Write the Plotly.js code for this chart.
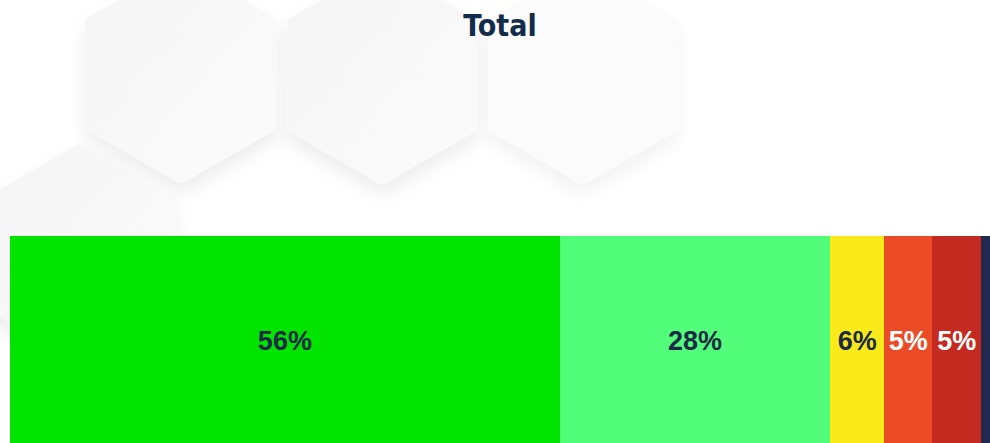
<!DOCTYPE html>
<html>
<head>
<meta charset="utf-8">
<script src="https://cdn.plot.ly/plotly-3.0.1.min.js"></script>
<style>
html,body{margin:0;padding:0;width:990px;height:443px;overflow:hidden;background:#fff;}
#bg{position:absolute;left:0;top:0;}
#chart{position:absolute;left:0;top:0;width:990px;height:446px;}
</style>
</head>
<body>
<svg id="bg" width="990" height="443" xmlns="http://www.w3.org/2000/svg">
  <defs>
    <filter id="sh" x="-30%" y="-30%" width="160%" height="170%">
      <feDropShadow dx="0" dy="10" stdDeviation="9" flood-color="#000" flood-opacity="0.07"/>
    </filter>
    <linearGradient id="g1" x1="0" y1="0" x2="1" y2="1">
      <stop offset="0" stop-color="#f5f5f5"/>
      <stop offset="1" stop-color="#fbfbfb"/>
    </linearGradient>
  </defs>
  <g id="hexes"></g>
</svg>
<div id="chart"></div>
<script>
// Data
const categories = ["Seg A", "Seg B", "Seg C", "Seg D", "Seg E", "Seg F"];
const values = [56.1, 27.6, 5.5, 4.9, 5.0, 0.9];
const labels = ["56%", "28%", "6%", "5%", "5%", ""];
const colors = ["#00e400", "#52fd7a", "#fbea1a", "#ec4b27", "#c52a20", "#1f2a4e"];
const textColors = ["#1b2a47", "#1b2a47", "#1b2a47", "#ffffff", "#ffffff", "#ffffff"];

// decorative background hexagons
const hexes = [
  {cx:181, cy:74, fill:"url(#g1)", op:1},
  {cx:382, cy:75, fill:"url(#g1)", op:1},
  {cx:583, cy:75, fill:"#fafafa", op:0.75},
  {cx:80, cy:253, fill:"url(#g1)", op:1}
];
const g = document.getElementById('hexes');
hexes.forEach(h => {
  const R = 103, hw = R*Math.sqrt(3)/2;
  const pts = [[h.cx,h.cy-R],[h.cx+hw,h.cy-R/2],[h.cx+hw,h.cy+R/2],[h.cx,h.cy+R],[h.cx-hw,h.cy+R/2],[h.cx-hw,h.cy-R/2]];
  const p = document.createElementNS('http://www.w3.org/2000/svg','polygon');
  p.setAttribute('points', pts.map(q=>q.join(',')).join(' '));
  p.setAttribute('fill', h.fill);
  p.setAttribute('stroke', h.fill);
  p.setAttribute('stroke-width', '12');
  p.setAttribute('stroke-linejoin', 'round');
  p.setAttribute('filter', 'url(#sh)');
  p.setAttribute('opacity', h.op);
  g.appendChild(p);
});

const traces = categories.map((c, i) => ({
  type: 'bar',
  orientation: 'h',
  name: c,
  y: ['Total'],
  x: [values[i]],
  text: [labels[i]],
  texttemplate: '%{text}',
  textposition: 'inside',
  insidetextanchor: 'middle',
  textangle: 0,
  constraintext: 'none',
  textfont: {family: 'Liberation Sans, Arial, sans-serif', size: 27, color: textColors[i], weight: 'bold'},
  marker: {color: colors[i], line: {width: 0}},
  hoverinfo: 'none',
  width: 1
}));

const layout = {
  width: 990,
  height: 446,
  barmode: 'stack',
  showlegend: false,
  paper_bgcolor: 'rgba(0,0,0,0)',
  plot_bgcolor: 'rgba(0,0,0,0)',
  margin: {l: 10, r: 0, t: 236, b: 0, pad: 0},
  title: {
    text: '<b>Total</b>',
    font: {family: 'DejaVu Sans Condensed, DejaVu Sans, sans-serif', size: 30, color: '#132c4a'},
    x: 0.5, xref: 'paper', xanchor: 'center',
    y: 1 - 25/446, yref: 'container', yanchor: 'middle'
  },
  xaxis: {range: [0, 100], visible: false, fixedrange: true},
  yaxis: {range: [-0.5, 0.5], visible: false, fixedrange: true},
  uniformtext: {mode: false}
};

Plotly.newPlot('chart', traces, layout, {displayModeBar: false, staticPlot: true});
</script>
</body>
</html>
